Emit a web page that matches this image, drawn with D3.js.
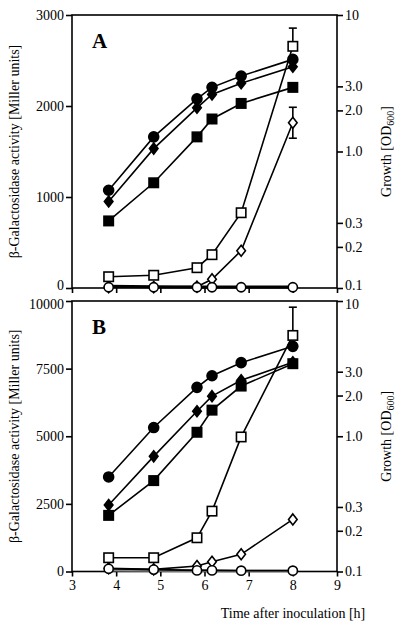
<!DOCTYPE html>
<html><head><meta charset="utf-8">
<script src="https://cdn.jsdelivr.net/npm/d3@7"></script>
<style>body{margin:0;background:#fff}svg{display:block}text{font-family:"Liberation Serif","DejaVu Serif",serif;fill:#000}</style>
</head><body>
<script>
// Data
const times = [3.83, 4.85, 5.83, 6.17, 6.83, 8.0];
const xTicks = [3, 4, 5, 6, 7, 8, 9];
// Panel A
const aGrowthCircle = [0.52, 1.28, 2.43, 2.95, 3.57, 4.73];
const aGrowthDiamond = [0.43, 1.05, 2.09, 2.62, 3.16, 4.18];
const aGrowthSquare = [0.31, 0.59, 1.28, 1.73, 2.25, 2.95];
const aActSquare = [124, 140, 223, 366, 827, 2656];
const aActDiamond = [10, 10, 15, 96, 410, 1816];
const aActCircle = [8, 8, 8, 8, 8, 8];
const aActBase = [20, 15, 12, 10, 10, 10];
const aErrSquare = [0, 0, 0, 0, 0, 200];
const aErrDiamond = [0, 0, 0, 0, 0, 170];
const aLeftTicks = [0, 1000, 2000, 3000];
// Panel B
const bGrowthCircle = [0.50, 1.16, 2.30, 2.80, 3.50, 4.62];
const bGrowthDiamond = [0.31, 0.71, 1.53, 1.98, 2.59, 3.52];
const bGrowthSquare = [0.26, 0.47, 1.07, 1.56, 2.35, 3.44];
const bActSquare = [509, 509, 1247, 2232, 4974, 8727];
const bActDiamond = [118, 80, 203, 362, 635, 1926];
const bActCircle = [100, 70, 40, 40, 30, 30];
const bActBase = [60, 50, 40, 30, 30, 30];
const bErrSquare = [0, 0, 0, 0, 0, 1044];
const bLeftTicks = [0, 2500, 5000, 7500, 10000];
const rightTicks = [0.1, 0.2, 0.3, 1.0, 2.0, 3.0, 10];
const rightTickLabels = ["0.1", "0.2", "0.3", "1.0", "2.0", "3.0", "10"];

const W = 404, H = 629;
const svg = d3.select("body").append("svg").attr("width", W).attr("height", H);
const x = d3.scaleLinear().domain([3, 9]).range([72, 337]);

function panel(opt) {
  const yL = d3.scaleLinear().domain([0, opt.max]).range([opt.bottom, opt.top]);
  const yR = d3.scaleLog().domain([0.1, 10]).range([opt.bottom, opt.top]);
  const g = svg.append("g");
  // frame
  g.append("rect").attr("x", x(3)).attr("y", opt.top).attr("width", x(9) - x(3)).attr("height", opt.bottom - opt.top)
    .attr("fill", "none").attr("stroke", "#000").attr("stroke-width", 1.6);
  // left axis
  const la = g.append("g").attr("transform", `translate(${x(3)},0)`)
    .call(d3.axisLeft(yL).tickValues(opt.leftTicks).tickSize(6).tickPadding(2).tickFormat(d3.format("d")));
  la.select(".domain").remove();
  la.selectAll("line").attr("stroke-width", 1.6);
  la.selectAll("text").style("font-size", "14px").style("font-family", "Liberation Serif");
  // right axis
  const ra = g.append("g").attr("transform", `translate(${x(9)},0)`)
    .call(d3.axisRight(yR).tickValues(rightTicks).tickSize(6).tickPadding(2).tickFormat((d, i) => rightTickLabels[i]));
  ra.select(".domain").remove();
  ra.selectAll("line").attr("stroke-width", 1.6);
  ra.selectAll("text").style("font-size", "14px").style("font-family", "Liberation Serif");
  // nudge the labels at the shared boundary between panels
  if (opt.letter === "A") {
    la.selectAll("text").filter(d => d === 0).attr("dy", "0.1em");
    ra.selectAll("text").filter(d => d === 0.1).attr("dy", "0.1em");
  } else {
    la.selectAll("text").filter(d => d === opt.max).attr("dy", "0.55em");
    ra.selectAll("text").filter(d => d === 10).attr("dy", "0.55em");
  }
  // bottom axis
  const ba = g.append("g").attr("transform", `translate(0,${opt.bottom})`)
    .call(d3.axisBottom(x).tickValues(xTicks).tickSize(5).tickPadding(4).tickFormat(opt.xLabels ? d3.format("d") : ""));
  ba.select(".domain").remove();
  ba.selectAll("line").attr("stroke-width", 1.6);
  ba.selectAll("text").style("font-size", "14px").style("font-family", "Liberation Serif");

  const line = (ys, scale) => d3.line().x((d, i) => x(times[i])).y(d => scale(d))(ys);
  // base near-zero series
  g.append("path").attr("d", line(opt.base, yL)).attr("fill", "none").attr("stroke", opt.baseColor).attr("stroke-width", 3);

  const series = [
    {v: opt.gC, s: yR, m: "circle", fill: "#000"},
    {v: opt.gD, s: yR, m: "diamond", fill: "#000"},
    {v: opt.gS, s: yR, m: "square", fill: "#000"},
    {v: opt.aD, s: yL, m: "diamond", fill: "#fff"},
    {v: opt.aS, s: yL, m: "square", fill: "#fff"},
    {v: opt.aC, s: yL, m: "circle", fill: "#fff"},
  ];
  // error bars
  opt.errs.forEach(e => {
    e.err.forEach((d, i) => {
      if (!d) return;
      const v = e.vals[i];
      const cx = x(times[i]);
      const ends = e.both ? [v - d, v + d] : [v + d];
      ends.forEach(t => {
        g.append("line").attr("x1", cx).attr("x2", cx).attr("y1", yL(v)).attr("y2", yL(t)).attr("stroke", "#000").attr("stroke-width", 1.6);
        g.append("line").attr("x1", cx - 4).attr("x2", cx + 4).attr("y1", yL(t)).attr("y2", yL(t)).attr("stroke", "#000").attr("stroke-width", 1.6);
      });
    });
  });
  series.forEach(s => {
    g.append("path").attr("d", line(s.v, s.s)).attr("fill", "none").attr("stroke", "#000").attr("stroke-width", 1.6);
  });
  series.forEach(s => {
    s.v.forEach((d, i) => {
      const cx = x(times[i]), cy = s.s(d);
      let el;
      if (s.m === "circle") el = g.append("circle").attr("cx", cx).attr("cy", cy).attr("r", s.fill === "#000" ? 5 : 4.6);
      else if (s.m === "square") el = g.append("rect").attr("x", cx - 4.7).attr("y", cy - 4.7).attr("width", 9.4).attr("height", 9.4);
      else el = g.append("path").attr("d", `M${cx},${cy - 5.5}L${cx + 4.3},${cy}L${cx},${cy + 5.5}L${cx - 4.3},${cy}Z`);
      el.attr("fill", s.fill).attr("stroke", "#000").attr("stroke-width", 1.6);
    });
  });
  // panel letter
  g.append("text").attr("x", 92).attr("y", opt.top + 33).text(opt.letter)
    .style("font-size", "21px").style("font-weight", "bold").style("font-family", "Liberation Serif");
  // axis titles
  const mid = (opt.top + opt.bottom) / 2;
  g.append("text").attr("transform", `translate(19,${mid}) rotate(-90)`).attr("text-anchor", "middle")
    .style("font-size", "14px").text("β-Galactosidase activity [Miller units]");
  const rt = g.append("text").attr("transform", `translate(391,${mid}) rotate(-90)`).attr("text-anchor", "middle")
    .style("font-size", "14px");
  rt.append("tspan").text("Growth [OD");
  rt.append("tspan").attr("dy", 3).style("font-size", "10px").text("600");
  rt.append("tspan").attr("dy", -3).text("]");
}

panel({top: 15, bottom: 288, max: 3000, leftTicks: aLeftTicks, letter: "A", xLabels: false,
  gC: aGrowthCircle, gD: aGrowthDiamond, gS: aGrowthSquare, aS: aActSquare, aD: aActDiamond, aC: aActCircle,
  base: aActBase, baseColor: "#000",
  errs: [{vals: aActSquare, err: aErrSquare, both: false}, {vals: aActDiamond, err: aErrDiamond, both: true}]});
panel({top: 301, bottom: 571.5, max: 10000, leftTicks: bLeftTicks, letter: "B", xLabels: true,
  gC: bGrowthCircle, gD: bGrowthDiamond, gS: bGrowthSquare, aS: bActSquare, aD: bActDiamond, aC: bActCircle,
  base: bActBase, baseColor: "#888",
  errs: [{vals: bActSquare, err: bErrSquare, both: false}]});

svg.append("text").attr("x", 293).attr("y", 618).attr("text-anchor", "middle").style("font-size", "14px")
  .text("Time after inoculation [h]");
</script>
</body></html>
